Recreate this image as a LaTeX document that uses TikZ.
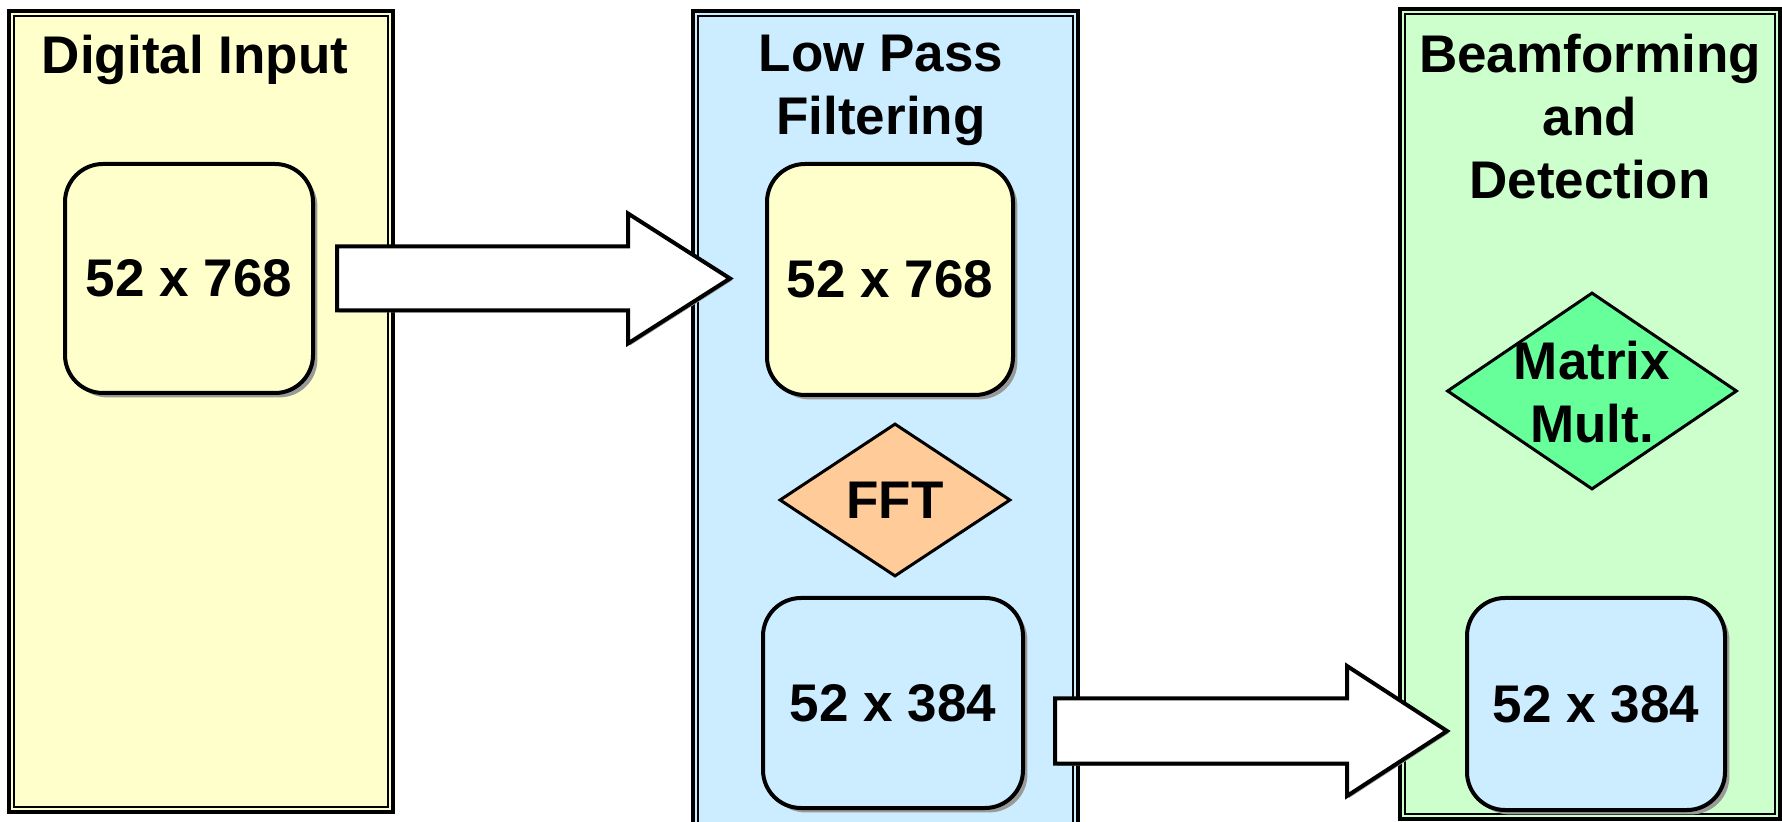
\documentclass[tikz,border=0pt]{standalone}
\usepackage{fontspec}
\setmainfont{Liberation Sans}
\usetikzlibrary{shapes.geometric,shadows,calc,fit}
\definecolor{paleyellow}{HTML}{FFFFCC}
\definecolor{paleblue}{HTML}{CCECFF}
\definecolor{palegreen}{HTML}{CCFFCC}
\definecolor{peach}{HTML}{FFCC99}
\definecolor{mint}{HTML}{66FF99}
\definecolor{shade}{HTML}{999999}

\begin{document}
\begin{tikzpicture}[x=0.5pt,y=-0.5pt,
  bigfont/.style={font=\fontsize{26.5pt}{31.5pt}\selectfont\bfseries},
  panel/.style={draw=black, line width=1.6pt, inner sep=0pt, outer sep=0pt},
  panelinner/.style={draw=black, line width=0.8pt},
  title/.style={bigfont, align=center, inner sep=0pt, anchor=north},
  boxtext/.style={bigfont, align=center, inner sep=0pt},
  databox/.style={bigfont, draw=black, line width=2pt, rounded corners=19pt,
    inner sep=0pt, outer sep=0pt,
    drop shadow={opacity=1, fill=shade, shadow xshift=2.2pt, shadow yshift=-2.2pt}},
  decision/.style={bigfont, diamond, draw=black, line width=1.5pt, inner sep=0pt},
  bigarrow/.style={draw=black, fill=white, line width=2pt, line join=miter,
    drop shadow={opacity=1, fill=shade, shadow xshift=1pt, shadow yshift=-1pt}}
]
\clip (0,0) rectangle (1782,822);

% three stage panels with a double frame
\node[panel, fill=paleyellow, fit={(9,11) (393,812)}] (pin) {};
\draw[panelinner] ($(pin.north west)+(5,5)$) rectangle ($(pin.south east)+(-5,-5)$);
\node[panel, fill=paleblue, fit={(693,11) (1078,842)}] (plp) {};
\draw[panelinner] ($(plp.north west)+(5,5)$) rectangle ($(plp.south east)+(-5,-5)$);
\node[panel, fill=palegreen, fit={(1400,9) (1780,819)}] (pbf) {};
\draw[panelinner] ($(pbf.north west)+(5,5)$) rectangle ($(pbf.south east)+(-5,-5)$);

% panel titles
\node[title] (tin) at (195,35) {Digital Input};
\node[title] (tlp) at (881,35) {Low Pass\\Filtering};
\node[title] (tbf) at (1590,34) {Beamforming\\and\\Detection};

% data blocks
\node[databox, fill=paleyellow, minimum width=124pt, minimum height=114.5pt] (b1) at (189,278.5) {52 x 768};
\node[databox, fill=paleyellow, minimum width=123pt, minimum height=115.5pt] (b2) at (890,279.5) {52 x 768};
\node[databox, fill=paleblue, minimum width=130pt, minimum height=105pt] (b3) at (893,703) {52 x 384};
\node[databox, fill=paleblue, minimum width=129pt, minimum height=106pt] (b4) at (1596,704) {52 x 384};

% operations
\node[decision, fill=peach, minimum width=115.5pt, minimum height=76.5pt] (fft) at (895,500) {FFT};
\node[decision, fill=mint, minimum width=145pt, minimum height=98.5pt] (mm) at (1592,391) {};
\node[boxtext] (mmt) at (1592,392) {Matrix\\Mult.};

% block arrows between stages
\coordinate (a1s) at ($(b1.east)+(24,0)$);
\coordinate (a1t) at ($(b2.west)+(-37,0)$);
\draw[bigarrow] let \p1=(a1s), \p2=(a1t) in
  (\x1,\y1+16pt) -- (\x2-51pt,\y1+16pt) -- (\x2-51pt,\y1+32.5pt) -- (\x2,\y1)
  -- (\x2-51pt,\y1-32.5pt) -- (\x2-51pt,\y1-16pt) -- (\x1,\y1-16pt) -- cycle;

\coordinate (a2s) at ($(b3.east)+(32,28)$);
\coordinate (a2t) at ($(b4.west)+(-20,28)$);
\draw[bigarrow] let \p1=(a2s), \p2=(a2t) in
  (\x1,\y1+16.25pt) -- (\x2-50pt,\y1+16.25pt) -- (\x2-50pt,\y1+32.5pt) -- (\x2,\y1)
  -- (\x2-50pt,\y1-32.5pt) -- (\x2-50pt,\y1-16.25pt) -- (\x1,\y1-16.25pt) -- cycle;
\end{tikzpicture}
\end{document}
